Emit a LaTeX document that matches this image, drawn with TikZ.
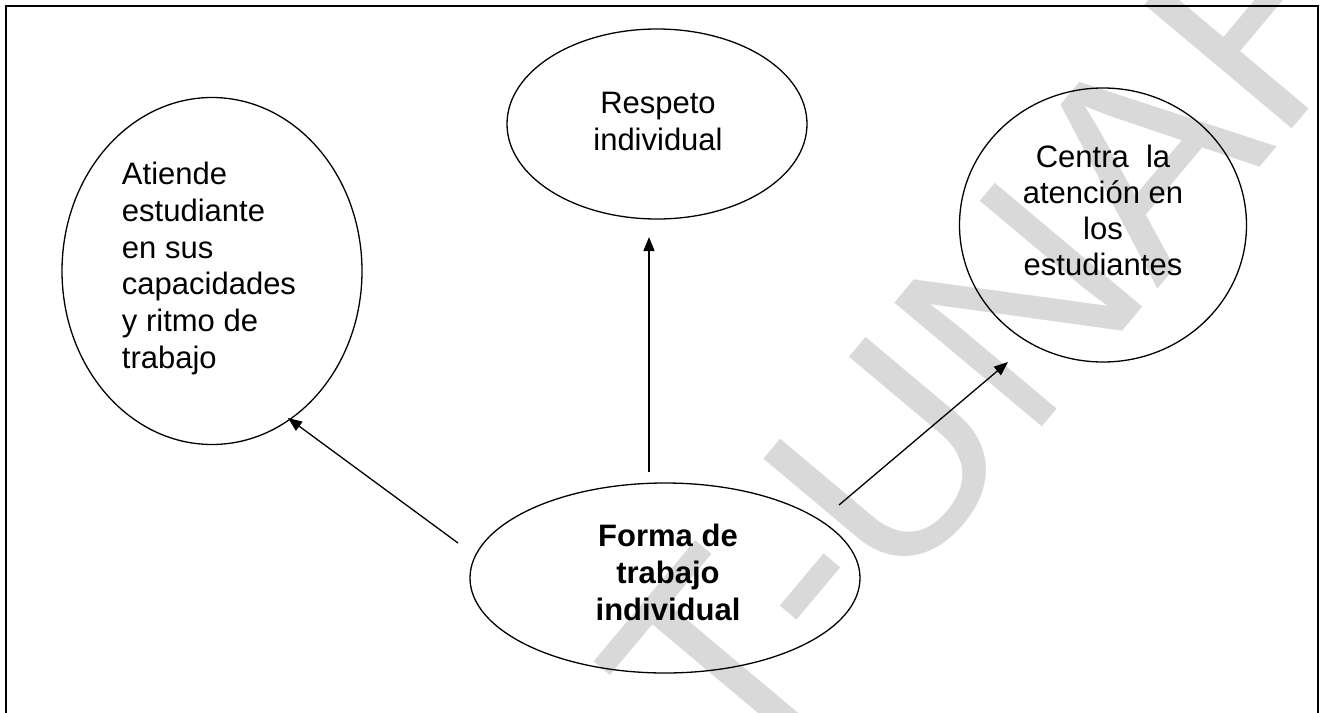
\documentclass[tikz,border=0pt]{standalone}
\usepackage{fontspec}
\setmainfont{Liberation Sans}
\usetikzlibrary{shapes.geometric,arrows.meta}
\definecolor{wm}{RGB}{217,217,217}
\begin{document}
\begin{tikzpicture}[x=1pt,y=-1pt,
  bub/.style={draw,ellipse,line width=1.3pt,inner sep=0pt},
  lbl/.style={font=\fontsize{31}{36.7}\selectfont,inner sep=0pt},
  conn/.style={line width=1.3pt,-{Triangle[length=14pt,width=11pt]}},
  frame/.style={line width=2pt}
]
\useasboundingbox (0,0) rectangle (1322,712);
% watermark
\node[rotate=50,font=\fontsize{280}{280}\selectfont,text=wm,inner sep=0pt] (wmark) at (1000,330) {T-UNAH};
% frame
\coordinate (fbl) at (6,740);
\coordinate (ftl) at (6,6);
\coordinate (ftr) at (1318,6);
\coordinate (fbr) at (1318,740);
\draw[frame] (fbl) -- (ftl) -- (ftr) -- (fbr);
% ellipses
\node[bub,minimum width=300pt,minimum height=347pt] (eL) at (212,271) {};
\node[bub,minimum width=300pt,minimum height=190pt] (eT) at (657,124) {};
\node[bub,minimum width=287pt,minimum height=274pt] (eR) at (1103,225) {};
\node[bub,minimum width=390pt,minimum height=190pt] (eB) at (665,578) {};
% texts
\node[lbl,align=left] (tL) at (209,268.5) {Atiende\\estudiante\\en sus\\capacidades\\y ritmo de\\trabajo};
\node[lbl,align=center] (tT) at (658,121.7) {Respeto\\individual};
\node[lbl,align=center,font=\fontsize{31}{36}\selectfont] (tR) at (1103,210) {Centra\ \ la\\atención en\\los\\estudiantes};
\node[lbl,align=center,font=\fontsize{31}{37}\selectfont\bfseries] (tB) at (668,572.7) {Forma de\\trabajo\\individual};
% connectors
\coordinate (sL) at (458,543);
\coordinate (pL) at (288,418);
\coordinate (sT) at (649,472);
\coordinate (pT) at (649,237);
\coordinate (sR) at (839,505);
\coordinate (pR) at (1008,362);
\draw[conn] (sL) -- (pL);
\draw[conn] (sT) -- (pT);
\draw[conn] (sR) -- (pR);
\end{tikzpicture}
\end{document}
